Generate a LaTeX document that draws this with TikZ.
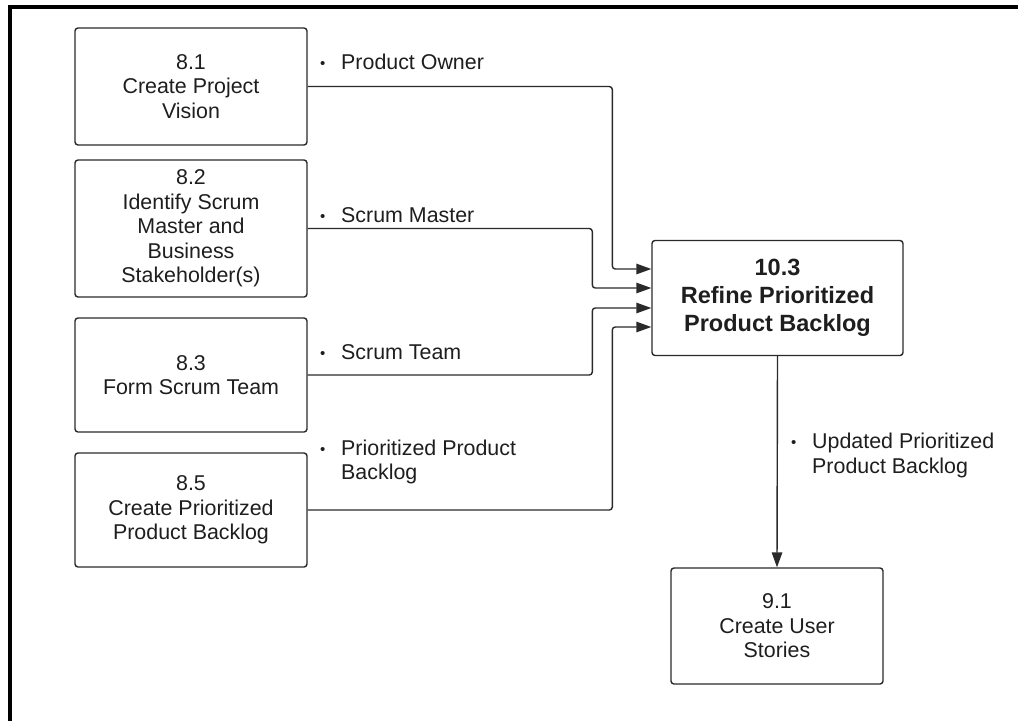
\documentclass[tikz,border=0pt]{standalone}
\usepackage{fontspec}
\setmainfont{Liberation Sans}
\usetikzlibrary{arrows.meta,calc}
\definecolor{ink}{HTML}{1E1E1E}
\definecolor{edge}{HTML}{2A2A2A}
\begin{document}
\begin{tikzpicture}[x=1pt,y=-1pt,
  proc/.style={draw=edge,line width=1.4pt,rounded corners=3pt,align=center,
    text=ink,inner sep=2pt,font=\fontsize{21.4}{24.5}\selectfont},
  main/.style={proc,font=\fontsize{23.5}{28}\selectfont\bfseries},
  conn/.style={draw=edge,line width=1.4pt,rounded corners=3pt,
    -{Triangle[length=15pt,width=10.5pt]}},
  lab/.style={anchor=west,align=left,inner sep=0pt,text=ink,
    font=\fontsize{21.4}{24.5}\selectfont}]
\useasboundingbox (0,0) rectangle (1018,721);
\fill[white] (0,0) rectangle (1018,721);
% frame
\draw[line width=4pt,black] (10,721) -- (10,7) -- (1018,7);
% process boxes
\node[proc,minimum width=232pt,minimum height=117pt] (b81) at (191,86.5) {8.1\\Create Project\\Vision};
\node[proc,minimum width=232pt,minimum height=137pt] (b82) at (191,228.5) {8.2\\Identify Scrum\\Master and\\Business\\Stakeholder(s)};
\node[proc,minimum width=232pt,minimum height=114pt] (b83) at (191,375) {8.3\\Form Scrum Team};
\node[proc,minimum width=232pt,minimum height=114pt] (b85) at (191,510) {8.5\\Create Prioritized\\Product Backlog};
\node[main,minimum width=251pt,minimum height=115pt] (b103) at (777.5,298) {10.3\\Refine Prioritized\\Product Backlog};
\node[proc,minimum width=212pt,minimum height=116pt] (b91) at (777,626) {9.1\\Create User\\Stories};
% entry points on 10.3
\coordinate (in1) at ($(b103.west)+(0,-29)$);
\coordinate (in2) at ($(b103.west)+(0,-10)$);
\coordinate (in3) at ($(b103.west)+(0,10)$);
\coordinate (in4) at ($(b103.west)+(0,29)$);
% connectors
\draw[conn] (b81.east) -| ($(in1)+(-39,0)$) -- (in1);
\draw[conn] (b82.east) -| ($(in2)+(-59,0)$) -- (in2);
\draw[conn] (b83.east) -| ($(in3)+(-59,0)$) -- (in3);
\draw[conn] (b85.east) -| ($(in4)+(-39,0)$) -- (in4);
\draw[conn] (b103.south) -- (b91.north);
% labels
\newcommand{\bul}{\makebox[21pt][l]{\hspace{0pt}\fontsize{15}{15}\selectfont\raisebox{1pt}{•}}}
\node[lab] (l1) at (320,62) {\bul Product Owner};
\node[lab] (l2) at (320,215) {\bul Scrum Master};
\node[lab] (l3) at (320,352) {\bul Scrum Team};
\node[lab] (l4) at (320,462) {\bul Prioritized Product\\\hspace*{21pt}Backlog};
\node[lab] (l5) at (791,455.5) {\bul Updated Prioritized\\\hspace*{21pt}Product Backlog};
\end{tikzpicture}
\end{document}
